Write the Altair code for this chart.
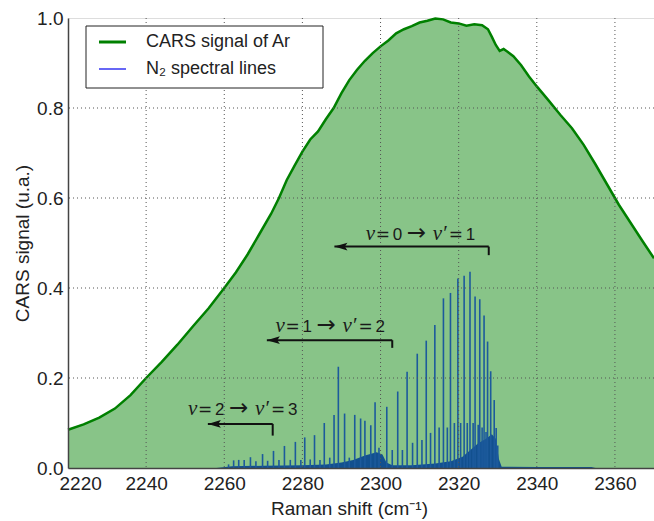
import altair as alt
import pandas as pd

# Normalised CARS signal of argon across the Raman shift window
ar_shift = [2220, 2224, 2228, 2232, 2236, 2240, 2244, 2248, 2252, 2256, 2260, 2263,
            2266, 2269, 2272, 2274, 2276, 2278, 2280, 2282, 2284, 2286, 2288, 2290,
            2292, 2294, 2296, 2298, 2300, 2302, 2304, 2306, 2308, 2310, 2312, 2314,
            2316, 2318, 2320, 2322, 2324, 2326, 2327.5, 2328.5, 2329.5, 2330.5, 2331.5,
            2332.5, 2334, 2336, 2338, 2340, 2343, 2346, 2349, 2352, 2355, 2358, 2361,
            2364, 2367, 2370]
ar_signal = [0.085, 0.097, 0.112, 0.132, 0.162, 0.200, 0.236, 0.274, 0.315, 0.355, 0.400, 0.435,
             0.475, 0.520, 0.565, 0.600, 0.640, 0.672, 0.703, 0.730, 0.748, 0.775, 0.800, 0.833,
             0.862, 0.885, 0.905, 0.922, 0.937, 0.950, 0.966, 0.975, 0.982, 0.990, 0.994, 0.999,
             0.997, 0.990, 0.988, 0.983, 0.986, 0.984, 0.975, 0.958, 0.940, 0.927, 0.931,
             0.925, 0.915, 0.895, 0.870, 0.848, 0.817, 0.785, 0.755, 0.718, 0.675, 0.630, 0.585,
             0.545, 0.505, 0.466]

# Resolved N2 Q-branch lines (position, peak height)
n2_shift = [2261.1, 2262.4, 2263.7, 2265.1, 2266.7, 2268.1, 2269.8, 2271.1, 2272.6, 2274.0,
            2275.4, 2276.9, 2278.2, 2279.6, 2280.6, 2282.0, 2283.1, 2284.5, 2285.6, 2287.0,
            2288.1, 2289.2, 2290.8, 2292.0, 2293.4, 2294.9, 2296.0, 2297.5, 2298.6, 2299.6,
            2301.6, 2303.0, 2304.4, 2305.6, 2306.8, 2308.2, 2309.4, 2310.6, 2311.7, 2312.8,
            2313.9, 2315.0, 2316.1, 2317.1, 2317.9, 2318.9, 2319.8, 2320.5, 2321.4, 2322.2,
            2322.9, 2323.7, 2324.2, 2325.0, 2325.4, 2326.0, 2326.5, 2327.0, 2327.4, 2328.2,
            2329.1, 2329.6, 2330.0]
n2_height = [0.008, 0.017, 0.018, 0.018, 0.024, 0.015, 0.031, 0.016, 0.038, 0.018,
             0.049, 0.018, 0.058, 0.018, 0.068, 0.019, 0.073, 0.018, 0.100, 0.023,
             0.118, 0.225, 0.121, 0.023, 0.118, 0.110, 0.105, 0.095, 0.146, 0.045,
             0.136, 0.040, 0.170, 0.040, 0.214, 0.056, 0.254, 0.062, 0.283, 0.078,
             0.318, 0.090, 0.377, 0.090, 0.389, 0.100, 0.421, 0.100, 0.427, 0.100,
             0.436, 0.100, 0.381, 0.096, 0.375, 0.090, 0.339, 0.080, 0.281, 0.215,
             0.151, 0.089, 0.050]

# Unresolved envelope of the weak lines underneath
bg_shift = [2258, 2262, 2270, 2280, 2286, 2290, 2293, 2296, 2299, 2300.5, 2301.5, 2303,
            2308, 2314, 2318, 2321, 2323, 2325, 2327, 2328.5, 2329.5, 2330.3, 2331, 2340,
            2354, 2355]
bg_height = [0.0, 0.004, 0.005, 0.006, 0.008, 0.012, 0.018, 0.028, 0.035, 0.030, 0.012, 0.006,
             0.006, 0.010, 0.015, 0.025, 0.040, 0.055, 0.065, 0.075, 0.065, 0.020, 0.003, 0.002,
             0.002, 0.0]

x_ticks = [2220, 2240, 2260, 2280, 2300, 2320, 2340, 2360]
y_ticks = [0.0, 0.2, 0.4, 0.6, 0.8, 1.0]

# Vibrational band annotations: label anchor, arrow tip, arrow end, arrow level, drop
band_lo = ["0", "1", "2"]
band_hi = ["1", "2", "3"]
band_text_x = [2296.2, 2273.1, 2250.7]
band_text_y = [0.507, 0.303, 0.118]
arrow_tip = [2288.2, 2270.9, 2255.8]
arrow_end = [2327.7, 2303.0, 2272.4]
arrow_y = [0.492, 0.284, 0.098]
arrow_drop = [0.473, 0.267, 0.072]

ar_df = pd.DataFrame({"shift": ar_shift, "signal": ar_signal})
n2_df = pd.DataFrame({"shift": n2_shift, "height": n2_height, "base": [0.0] * len(n2_shift)})
bg_df = pd.DataFrame({"shift": bg_shift, "height": bg_height})
gx_df = pd.DataFrame({"shift": x_ticks[1:]})
gy_df = pd.DataFrame({"signal": y_ticks[1:-1]})
band_df = pd.DataFrame({
    "tx": band_text_x, "ty": band_text_y, "lo": band_lo, "hi": band_hi,
    "tip": arrow_tip, "end": arrow_end, "ay": arrow_y, "drop": arrow_drop,
})
one = pd.DataFrame({"k": [0]})

SANS = "Liberation Sans, Arial, sans-serif"
MATH_IT = "Liberation Serif, DejaVu Serif, serif"
MATH_RM = "Liberation Sans, DejaVu Sans, sans-serif"
MATH_SYM = "DejaVu Sans, sans-serif"
INK = "#222222"

xscale = alt.Scale(domain=[2220, 2370], nice=False, zero=False)
yscale = alt.Scale(domain=[0, 1], nice=False, zero=False)

xaxis = alt.Axis(values=x_ticks, format="d", title="Raman shift (cm⁻¹)", grid=False, ticks=False,
                 labelFont=SANS, labelFontSize=19, labelColor=INK, labelPadding=6,
                 labelFlush=True, labelFlushOffset=9, labelOverlap=False,
                 domainColor="#444444", domainWidth=1.5,
                 titleFont=SANS, titleFontSize=19, titleFontWeight="normal", titleColor=INK,
                 titleX=281, titleY=46, titleBaseline="alphabetic", titleAlign="center",
                 zindex=1)
yaxis = alt.Axis(values=y_ticks, format=".1f", title="CARS signal (u.a.)", grid=False,
                 ticks=False, labelFont=SANS, labelFontSize=19, labelColor=INK,
                 labelPadding=5, labelBaseline="middle", labelFlush=False, labelOverlap=False,
                 domainColor="#444444", domainWidth=1.5,
                 titleFont=SANS, titleFontSize=19, titleFontWeight="normal", titleColor=INK,
                 titleX=-40, titleY=225, titleAngle=270, titleBaseline="alphabetic",
                 titleAlign="center", zindex=1)


def X(field):
    return alt.X(field, type="quantitative", scale=xscale, axis=xaxis)


def Y(field):
    return alt.Y(field, type="quantitative", scale=yscale, axis=yaxis)


ar_area = alt.Chart(ar_df).mark_area(color="#88c488", opacity=1).encode(
    x=X("shift"), y=Y("signal"))
ar_line = alt.Chart(ar_df).mark_line(color="#008000", strokeWidth=2.5).encode(
    x=X("shift"), y=Y("signal"))

n2_bg = alt.Chart(bg_df).mark_area(color="#12508f", opacity=1).encode(
    x=X("shift"), y=Y("height"))
n2_lines = alt.Chart(n2_df).mark_rule(color="#1c5a9c", strokeWidth=1.6).encode(
    x=X("shift"), y=Y("base"), y2=alt.Y2("height"))

grid_v = alt.Chart(gx_df).mark_rule(color="#555555", strokeWidth=1, strokeDash=[1, 3]).encode(
    x=X("shift"))
grid_h = alt.Chart(gy_df).mark_rule(color="#555555", strokeWidth=1, strokeDash=[1, 3]).encode(
    y=Y("signal"))

arrow_h = alt.Chart(band_df).mark_rule(color="#111111", strokeWidth=2).encode(
    x=X("tip"), x2=alt.X2("end"), y=Y("ay"))
arrow_v = alt.Chart(band_df).mark_rule(color="#111111", strokeWidth=2).encode(
    x=X("end"), y=Y("ay"), y2=alt.Y2("drop"))
arrow_head = alt.Chart(band_df).mark_point(
    shape="M0,0 L1,-0.3 L0.8,0 L1,0.3 Z", size=676, filled=True, color="#111111",
    opacity=1).encode(x=X("tip"), y=Y("ay"))


def piece(field_or_text, dx, font, size, style="normal", is_field=False):
    mark = alt.Chart(band_df).mark_text(
        align="left", baseline="alphabetic", dx=dx, font=font, fontSize=size,
        fontStyle=style, color="#1a1a1a")
    txt = alt.Text(field_or_text, type="nominal") if is_field else alt.value(field_or_text)
    return mark.encode(x=X("tx"), y=Y("ty"), text=txt)


labels = [
    piece("v", 0, MATH_IT, 21, "italic"),
    piece("=", 10, MATH_SYM, 17),
    piece("lo", 27, MATH_RM, 17, is_field=True),
    piece("→", 41, MATH_SYM, 23),
    piece("v′", 67, MATH_IT, 21, "italic"),
    piece("=", 83, MATH_SYM, 17),
    piece("hi", 100, MATH_RM, 17, is_field=True),
]

# Legend box with line samples
leg_box = alt.Chart(one).mark_rect(fill="white", stroke="#222222", strokeWidth=1).encode(
    x=alt.value(18), x2=alt.value(255), y=alt.value(8), y2=alt.value(70))
leg_ar = alt.Chart(one).mark_rule(color="#008000", strokeWidth=3).encode(
    x=alt.value(31), x2=alt.value(58), y=alt.value(24))
leg_n2 = alt.Chart(one).mark_rule(color="#0000ee", strokeWidth=1.2).encode(
    x=alt.value(31), x2=alt.value(58), y=alt.value(51))
leg_t1 = alt.Chart(one).mark_text(align="left", baseline="middle", font=SANS, fontSize=18,
                                  color=INK).encode(
    x=alt.value(78), y=alt.value(24), text=alt.value("CARS signal of Ar"))
leg_t2 = alt.Chart(one).mark_text(align="left", baseline="middle", font=SANS, fontSize=18,
                                  color=INK).encode(
    x=alt.value(78), y=alt.value(51), text=alt.value("N₂ spectral lines"))

chart = alt.layer(
    ar_area, ar_line, n2_bg, n2_lines, grid_v, grid_h,
    arrow_h, arrow_v, arrow_head, *labels,
    leg_box, leg_ar, leg_n2, leg_t1, leg_t2,
).properties(
    width=586, height=450,
    autosize=alt.AutoSizeParams(type="none"),
    padding={"left": 68, "top": 18, "right": 0, "bottom": 53},
).configure_view(
    stroke="#444444", strokeWidth=1.5
).configure(background="white")

chart.save("out.html", embed_options={"renderer": "svg", "actions": False})
